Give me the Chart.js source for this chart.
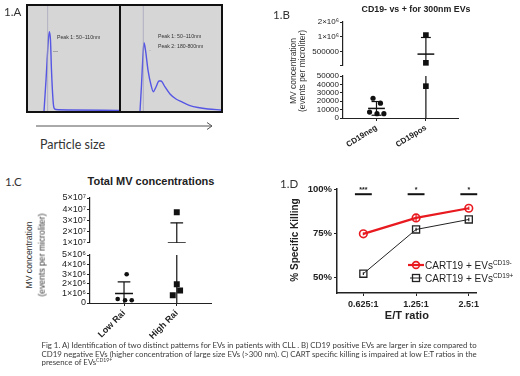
<!DOCTYPE html>
<html><head><meta charset="utf-8">
<script src="https://cdn.jsdelivr.net/npm/chart.js@4.4.1/dist/chart.umd.min.js"></script>
<style>
html,body{margin:0;padding:0;background:#fff;}
body{width:520px;height:376px;position:relative;overflow:hidden;font-family:"Liberation Sans",Arial,sans-serif;color:#222;}
canvas{position:absolute;}
.t{position:absolute;white-space:nowrap;line-height:1;}
.cal{font-family:Lato,"Open Sans",sans-serif;}
sup{font-size:65%;vertical-align:0;position:relative;top:-0.55em;}
</style></head><body>
<script>
// ---------------- DATA ----------------
// Panel A: particle size distributions (relative size vs relative concentration)
const aLeftSize  = [17.6, 19.8, 22, 23.4, 24.7, 25.8, 27.5, 28.6, 30.8, 46.2, 100];
const aLeftConc  = [0, 29.5, 62.9, 75.5, 67.6, 39, 10.5, 2.9, 1.4, 1, 0.5];
const aRightSize = [19, 20.5, 22, 23, 24.5, 27, 30, 32.3, 35, 38, 40, 44, 49, 55, 61, 69, 77, 87, 100];
const aRightConc = [0, 24.8, 53.3, 65, 58, 39, 24.8, 18.4, 22.9, 28.6, 28.6, 22.9, 16.2, 11.4, 8.6, 5.2, 3.3, 1.9, 1];
const aRefLines  = [21.6, 22.3];
const aLeftNotes  = ['Peak 1: 50\u2212110nm'];
const aRightNotes = ['Peak 1: 50\u2212110nm', 'Peak 2: 180-800nm'];

// Panel B: CD19- vs + for 300nm EVs
const bCategories = ['CD19neg', 'CD19pos'];
const bNegValues = [23500, 17600, 7000, 5100, 5100];
const bNegJitter = [-0.07, 0.08, -0.14, 0.01, 0.15];
const bPosValues = [1090000, 301000, 37900];
const bPosJitter = [0, 0, 0];
const bMean  = [11400, 451000];
const bUpper = [19600, 975000];
const bLower = [3300, 0];
const bTopTicks = [500000, 1000000, 2000000];
const bTopTickLabels = ['500000', '1\u00d710\u2076', '2\u00d710\u2076'];
const bBottomTicks = [0, 10000, 20000, 30000, 40000, 50000];
const bBottomTickLabels = ['0', '10000', '20000', '30000', '40000', '50000'];

// Panel C: Total MV concentrations
const cCategories = ['Low Rai', 'High Rai'];
const cLowValues  = [2990000, 420000, 280000, 280000];
const cLowJitter  = [0.05, -0.12, 0.02, 0.146];
const cHighValues = [37200000, 1960000, 1300000, 810000];
const cHighJitter = [0, 0, 0.063, -0.076];
const cMean  = [980000, 10000000];
const cUpper = [2200000, 27800000];
const cLower = [0, 0];
const cTopTicks = [10000000, 20000000, 30000000, 40000000, 50000000];
const cTopTickLabels = ['1\u00d710\u2077', '2\u00d710\u2077', '3\u00d710\u2077', '4\u00d710\u2077', '5\u00d710\u2077'];
const cBottomTicks = [0, 1000000, 2000000, 3000000, 4000000, 5000000];
const cBottomTickLabels = ['0', '1\u00d710\u2076', '2\u00d710\u2076', '3\u00d710\u2076', '4\u00d710\u2076', '5\u00d710\u2076'];

// Panel D: % specific killing
const dRatios = ['0.625:1', '1.25:1', '2.5:1'];
const dNegKilling = [74.6, 83.7, 89.2];   // CART19 + EVs CD19-
const dPosKilling = [51.9, 77.1, 82.8];   // CART19 + EVs CD19+
const dNegErr = [0.8, 2.2, 1.0];
const dPosErr = [0.8, 1.0, 1.0];
const dSigLabels = ['***', '*', '*'];
const dSigLevel = 97.2;
const dYTicks = [50, 75, 100];
const dYTickLabels = ['50%', '75%', '100%'];
const dSeriesNames = ['CART19 + EVs', 'CART19 + EVs'];
const dSeriesSups = ['CD19-', 'CD19+'];

// ---------------- HELPERS ----------------
const SANS = '"Liberation Sans", Arial, sans-serif';
function txt(html, x, y, css, cls) {
  const d = document.createElement('div');
  d.className = 't ' + (cls || '');
  d.innerHTML = html;
  d.style.left = x + 'px'; d.style.top = y + 'px';
  Object.assign(d.style, css || {});
  document.body.appendChild(d);
  return d;
}
function ctxt(html, cx, cy, css, cls, rot) {
  const d = txt(html, cx, cy, css, cls);
  d.style.transform = 'translate(-50%,-50%)' + (rot ? ' rotate(' + rot + 'deg)' : '');
  return d;
}
function place(o) {
  const W = o.x1 - o.x0 + o.padL + o.padR;
  const H = o.y1 - o.y0 + o.padT + o.padB;
  const c = document.createElement('canvas');
  c.width = W; c.height = H;
  Object.assign(c.style, {left: (o.x0 - o.padL) + 'px', top: (o.y0 - o.padT) + 'px', width: W + 'px', height: H + 'px'});
  if (o.bg) c.style.background = o.bg;
  document.body.appendChild(c);
  const xShow = o.scales.x.display !== false;
  const yShow = o.scales.y.display !== false;
  const fix = (size) => (s) => {
    if (s.isHorizontal()) s.height = size; else s.width = size;
    s.paddingLeft = s.paddingRight = s.paddingTop = s.paddingBottom = 0;
  };
  if (xShow) o.scales.x.afterFit = fix(o.padB);
  if (yShow) o.scales.y.afterFit = fix(o.padL);
  return new Chart(c, {
    type: 'line',
    data: {datasets: o.datasets},
    options: {
      responsive: false, devicePixelRatio: 1, animation: false, events: [],
      layout: {padding: {left: yShow ? 0 : o.padL, right: o.padR, top: o.padT, bottom: xShow ? 0 : o.padB}},
      scales: o.scales,
      plugins: {legend: {display: false}, tooltip: {enabled: false}, title: {display: false}}
    },
    plugins: o.plugins || []
  });
}
const setTicks = (vals) => (s) => { s.ticks = vals.map(v => ({value: v})); };
const labelFor = (vals, labels) => (v) => { const i = vals.indexOf(v); return i >= 0 ? labels[i] : ''; };
const pts = (values, jitter, center) => values.map((v, i) => ({x: center + jitter[i], y: v}));
function scatterDs(data, style, r, clip) {
  return {data, showLine: false, pointStyle: style, pointRadius: r, pointBackgroundColor: '#111',
          pointBorderColor: '#111', pointBorderWidth: 0, clip: clip};
}
function segDs(a, b, w, color) {
  return {data: [a, b], borderColor: color || '#111', borderWidth: w, pointRadius: 0, clip: 0, tension: 0};
}
function errorBars(means, uppers, lowers, floor, meanHalf, capHalf) {
  const out = [];
  means.forEach((m, i) => {
    const c = i + 1;
    const lo = Math.max(lowers[i], floor);
    out.push(segDs({x: c - meanHalf, y: m}, {x: c + meanHalf, y: m}, 1.5));
    out.push(segDs({x: c, y: lo}, {x: c, y: uppers[i]}, 1.2));
    out.push(segDs({x: c - capHalf, y: uppers[i]}, {x: c + capHalf, y: uppers[i]}, 1.2));
    if (lowers[i] > floor) out.push(segDs({x: c - capHalf, y: lowers[i]}, {x: c + capHalf, y: lowers[i]}, 1.2));
  });
  return out;
}
function yAxis(type, min, max, tickVals, tickLabels, size) {
  return {type, min, max, afterBuildTicks: setTicks(tickVals),
    ticks: {autoSkip: false, padding: 1, color: '#222', font: {family: SANS, size}, callback: labelFor(tickVals, tickLabels)},
    grid: {display: true, drawOnChartArea: false, drawTicks: true, tickLength: 3, color: '#222', lineWidth: 1},
    border: {display: true, color: '#222', width: 1.2}};
}

// ---------------- PANEL A ----------------
const box = document.createElement('div');
Object.assign(box.style, {position: 'absolute', left: '26px', top: '4px', width: '197px', height: '109px',
  border: '2px solid #111', boxSizing: 'border-box'});
document.body.appendChild(box);
const divider = document.createElement('div');
Object.assign(divider.style, {position: 'absolute', left: '119px', top: '4px', width: '2px', height: '109px', background: '#111'});
document.body.appendChild(divider);

function distChart(x0, x1, sizes, conc, ref) {
  const curve = sizes.map((s, i) => ({x: s, y: conc[i]}));
  place({x0, x1, y0: 6, y1: 111, padL: 0, padR: 0, padT: 0, padB: 0, bg: '#d6d6d6',
    scales: {x: {type: 'linear', display: false, min: 0, max: 100}, y: {type: 'linear', display: false, min: 0, max: 100}},
    datasets: [
      {data: [{x: ref, y: 0}, {x: ref, y: 100}], borderColor: 'rgba(160,160,185,0.7)', borderWidth: 1, pointRadius: 0},
      {data: curve, borderColor: '#5656e4', borderWidth: 1.4, pointRadius: 0, tension: 0.25, cubicInterpolationMode: 'monotone'}
    ]});
}
distChart(28, 119, aLeftSize, aLeftConc, aRefLines[0]);
distChart(121, 221, aRightSize, aRightConc, aRefLines[1]);
const noteCss = {fontSize: '5.2px', color: '#333', fontFamily: SANS};
txt(aLeftNotes[0], 57, 35, noteCss);
txt(aRightNotes[0], 158, 33.5, noteCss);
txt(aRightNotes[1], 158, 43.5, noteCss);
txt('\u2014', 53, 48.5, {fontSize: '5px', color: '#555'});
txt('\u00b7', 149, 47, {fontSize: '6px', color: '#555'});

const svgNS = 'http://www.w3.org/2000/svg';
const svg = document.createElementNS(svgNS, 'svg');
svg.setAttribute('width', '200'); svg.setAttribute('height', '14');
Object.assign(svg.style, {position: 'absolute', left: '30px', top: '119px'});
svg.innerHTML = '<line x1="6" y1="7" x2="182" y2="7" stroke="#555" stroke-width="1"/>' +
  '<polyline points="177,3.5 182,7 177,10.5" fill="none" stroke="#555" stroke-width="1"/>';
document.body.appendChild(svg);
txt('Particle size', 40, 139, {fontSize: '12.5px', color: '#333'}, 'cal');
txt('1.A', 4, 6, {fontSize: '11.5px', color: '#333'}, 'cal');

// ---------------- PANEL B ----------------
const bXScale = (show) => ({type: 'linear', min: 0.322, max: 2.65, display: show,
  afterBuildTicks: setTicks([1, 2]),
  ticks: {autoSkip: false, minRotation: 32, maxRotation: 32, padding: 2, color: '#222',
          font: {family: SANS, size: 8, weight: 'bold'}, callback: labelFor([1, 2], bCategories)},
  grid: {display: true, drawOnChartArea: false, drawTicks: true, tickLength: 3, color: '#222'},
  border: {display: true, color: '#222', width: 1, dash: [1.6, 1.4]}});
const bPointSets = (clip) => [
  scatterDs(pts(bNegValues, bNegJitter, 1), 'circle', 2.6, clip),
  scatterDs(pts(bPosValues, bPosJitter, 2), 'rect', 4, clip)];
place({x0: 343, x1: 458, y0: 22, y1: 67, padL: 52, padR: 4, padT: 6, padB: 2,
  scales: {x: bXScale(false), y: yAxis('logarithmic', 272000, 2000000, [272000].concat(bTopTicks), [''].concat(bTopTickLabels), 8)},
  datasets: errorBars(bMean, bUpper, bLower, 1, 0.17, 0.1).concat(bPointSets(4))});
place({x0: 343, x1: 458, y0: 76, y1: 118, padL: 52, padR: 4, padT: 6, padB: 45,
  scales: {x: bXScale(true), y: yAxis('linear', 0, 50000, bBottomTicks, bBottomTickLabels, 8)},
  datasets: errorBars(bMean, bUpper, bLower, 0, 0.17, 0.1).concat(bPointSets(4))});
txt('1.B', 273, 9, {fontSize: '11.5px', color: '#333'}, 'cal');
ctxt('CD19- vs + for 300nm EVs', 416, 9, {fontSize: '8.8px', fontWeight: 'bold', color: '#222'});
ctxt('MV concentration', 293, 71, {fontSize: '8.5px', color: '#333'}, '', -90);
ctxt('(events per microliter)', 302, 71, {fontSize: '8.5px', color: '#333'}, '', -90);

// ---------------- PANEL C ----------------
const cXScale = (show) => ({type: 'linear', min: 0.355, max: 2.664, display: show,
  afterBuildTicks: setTicks([1, 2]),
  ticks: {autoSkip: false, minRotation: 45, maxRotation: 45, padding: 2, color: '#222',
          font: {family: SANS, size: 9, weight: 'bold'}, callback: labelFor([1, 2], cCategories)},
  grid: {display: true, drawOnChartArea: false, drawTicks: true, tickLength: 3, color: '#222'},
  border: {display: true, color: '#222', width: 1, dash: [1.6, 1.4]}});
const cPointSets = (clip) => [
  scatterDs(pts(cLowValues, cLowJitter, 1), 'circle', 2.3, clip),
  scatterDs(pts(cHighValues, cHighJitter, 2), 'rect', 4.2, clip)];
place({x0: 90, x1: 212, y0: 198, y1: 245, padL: 45, padR: 4, padT: 6, padB: 2,
  scales: {x: cXScale(false), y: yAxis('linear', 10000000, 50000000, cTopTicks, cTopTickLabels, 9)},
  datasets: errorBars(cMean, cUpper, cLower, 0, 0.17, 0.12).concat(cPointSets(3))});
place({x0: 90, x1: 212, y0: 255, y1: 303, padL: 45, padR: 4, padT: 6, padB: 45,
  scales: {x: cXScale(true), y: yAxis('linear', 0, 5000000, cBottomTicks, cBottomTickLabels, 9)},
  datasets: errorBars(cMean, cUpper, cLower, 0, 0.17, 0.12).concat(cPointSets(3))});
txt('1.C', 5, 176, {fontSize: '11.5px', color: '#333'}, 'cal');
ctxt('Total MV concentrations', 151, 181, {fontSize: '11px', fontWeight: 'bold', color: '#222'});
ctxt('MV concentration', 29, 255, {fontSize: '8.6px', color: '#333'}, '', -90);
ctxt('(events per microliter)', 41.5, 255, {fontSize: '8.6px', color: '#333'}, '', -90);

// ---------------- PANEL D ----------------
const dExtras = {
  id: 'dExtras',
  beforeDatasetsDraw(chart) {
    const {ctx, scales: {x, y}} = chart;
    ctx.save();
    const draw = (vals, errs, color) => vals.forEach((v, i) => {
      const px = x.getPixelForValue(i + 1);
      ctx.strokeStyle = color; ctx.lineWidth = 1.2;
      ctx.beginPath();
      ctx.moveTo(px, y.getPixelForValue(v - errs[i])); ctx.lineTo(px, y.getPixelForValue(v + errs[i]));
      ctx.stroke();
    });
    draw(dPosKilling, dPosErr, '#222');
    draw(dNegKilling, dNegErr, '#e8191f');
    ctx.restore();
  },
  afterDatasetsDraw(chart) {
    const {ctx, scales: {x, y}} = chart;
    ctx.save();
    ctx.fillStyle = '#222'; ctx.font = 'bold 7px ' + SANS; ctx.textAlign = 'center'; ctx.textBaseline = 'bottom';
    dSigLabels.forEach((t, i) => ctx.fillText(t, x.getPixelForValue(i + 1), y.getPixelForValue(dSigLevel) - 0.5));
    ctx.restore();
  }
};
const sigBars = dSigLabels.map((t, i) => segDs({x: i + 1 - 0.16, y: dSigLevel}, {x: i + 1 + 0.16, y: dSigLevel}, 2));
sigBars.forEach(d => d.clip = false);
place({x0: 337, x1: 477, y0: 188, y1: 293, padL: 50, padR: 6, padT: 6, padB: 31,
  scales: {
    x: {type: 'linear', min: 0.5, max: 3.15, afterBuildTicks: setTicks([1, 2, 3]),
        ticks: {autoSkip: false, maxRotation: 0, minRotation: 0, padding: 3, color: '#222',
                font: {family: SANS, size: 9, weight: 'bold'}, callback: labelFor([1, 2, 3], dRatios)},
        grid: {display: true, drawOnChartArea: false, drawTicks: true, tickLength: 3, color: '#222'},
        border: {display: true, color: '#222', width: 1.5},
        title: {display: true, text: 'E/T ratio', color: '#222', font: {family: SANS, size: 11, weight: 'bold'}, padding: {top: 0, bottom: 1}}},
    y: {type: 'linear', min: 40.9, max: 100.57, afterBuildTicks: setTicks(dYTicks),
        ticks: {autoSkip: false, padding: 2, color: '#222', font: {family: SANS, size: 9.5, weight: 'bold'}, callback: labelFor(dYTicks, dYTickLabels)},
        grid: {display: true, drawOnChartArea: false, drawTicks: true, tickLength: 3, color: '#222'},
        border: {display: true, color: '#222', width: 1.5}}
  },
  datasets: [
    {data: dPosKilling.map((v, i) => ({x: i + 1, y: v})), borderColor: '#222', borderWidth: 1, pointStyle: 'rect',
     pointRadius: 5, pointBorderWidth: 1.3, pointBorderColor: '#222', pointBackgroundColor: 'rgba(0,0,0,0)', clip: false},
    {data: dNegKilling.map((v, i) => ({x: i + 1, y: v})), borderColor: '#e8191f', borderWidth: 2.2, pointStyle: 'circle',
     pointRadius: 3.8, pointBorderWidth: 1.6, pointBorderColor: '#e8191f', pointBackgroundColor: 'rgba(0,0,0,0)', clip: false}
  ].concat(sigBars),
  plugins: [dExtras]});
txt('1.D', 280, 178, {fontSize: '11.5px', color: '#333'}, 'cal');
ctxt('% Specific Killing', 295, 240, {fontSize: '10px', fontWeight: 'bold', color: '#222'}, '', -90);

// legend for panel D
const legSvg = (i) => i === 0
  ? '<svg width="18" height="10" style="position:absolute;left:-18px;top:-1px"><line x1="1" y1="5" x2="17" y2="5" stroke="#e8191f" stroke-width="2.2"/><circle cx="9" cy="5" r="3.4" fill="none" stroke="#e8191f" stroke-width="1.6"/></svg>'
  : '<svg width="18" height="10" style="position:absolute;left:-18px;top:-1px"><line x1="3" y1="5" x2="15" y2="5" stroke="#222" stroke-width="1"/><rect x="5.5" y="1.5" width="7" height="7" fill="none" stroke="#222" stroke-width="1.3"/></svg>';
[265.5, 279].forEach((cy, i) => {
  const d = txt(legSvg(i) + dSeriesNames[i] + '<sup>' + dSeriesSups[i] + '</sup>', 425, cy - 5,
    {fontSize: '10px', color: '#222', fontFamily: SANS});
});

// ---------------- CAPTION ----------------
const capLines = [
  'Fig 1. A) Identification of two distinct patterns for EVs in patients with CLL . B) CD19 positive EVs are larger in size compared to',
  'CD19 negative EVs (higher concentration of large size EVs (&gt;300 nm). C) CART specific killing is impaired at low E:T ratios in the',
  'presence of EVs<sup>CD19+</sup>'
];
const capDivs = capLines.map((l, i) => txt(l, 41.5, 342 + i * 8.5, {fontSize: '7px', color: '#3a3a3a', background: 'transparent'}, 'cal'));
const w0 = capDivs[0].getBoundingClientRect().width;
const fs = 7 * 435 / w0;
capDivs.forEach(d => d.style.fontSize = fs.toFixed(2) + 'px');
</script>
</body></html>
